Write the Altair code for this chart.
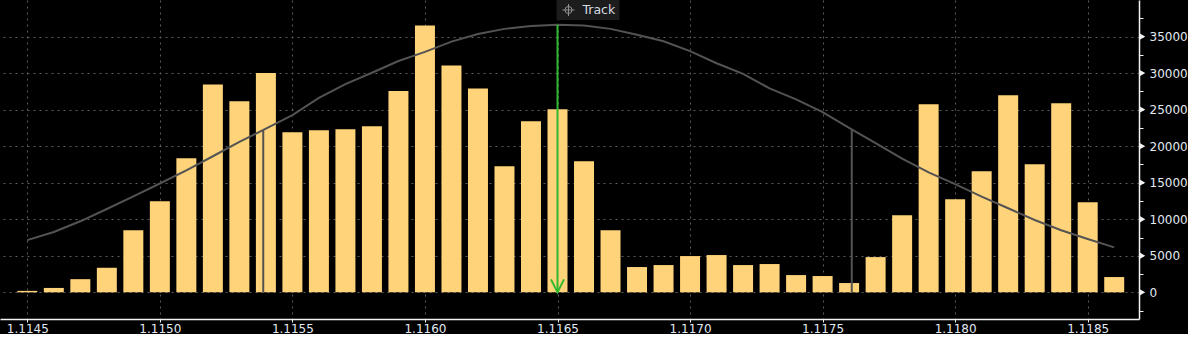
import altair as alt
import pandas as pd

# ---- data ----
prices = [1.1145, 1.1146, 1.1147, 1.1148, 1.1149, 1.1150, 1.1151, 1.1152, 1.1153, 1.1154,
          1.1155, 1.1156, 1.1157, 1.1158, 1.1159, 1.1160, 1.1161, 1.1162, 1.1163, 1.1164,
          1.1165, 1.1166, 1.1167, 1.1168, 1.1169, 1.1170, 1.1171, 1.1172, 1.1173, 1.1174,
          1.1175, 1.1176, 1.1177, 1.1178, 1.1179, 1.1180, 1.1181, 1.1182, 1.1183, 1.1184,
          1.1185, 1.1186]
volumes = [200, 600, 1800, 3360, 8500, 12470, 18350, 28450, 26130, 30000,
           21900, 22170, 22310, 22720, 27540, 36500, 31040, 27900, 17250, 23400,
           25040, 17940, 8500, 3460, 3730, 4960, 5100, 3730, 3870, 2360,
           2230, 1270, 4820, 10560, 25720, 12750, 16570, 26950, 17530, 25860,
           12340, 2090]
curve = [7140, 8250, 9720, 11400, 13130, 14890, 16700, 18620, 20580, 22400,
         24240, 26600, 28500, 30050, 31650, 32900, 34300, 35350, 36050, 36450,
         36600, 36520, 36050, 35250, 34350, 33000, 31350, 29900, 27900, 26400,
         24650, 22500, 20400, 18300, 16400, 14800, 13100, 11500, 9900, 8500,
         7300, 6150]
sigma_prices = [1.11539, 1.11761]
sigma_tops = [22170, 22310]
track_price = [1.1165]
track_top = [36600]
x_tick_values = [1.1145, 1.1150, 1.1155, 1.1160, 1.1165, 1.1170, 1.1175, 1.1180, 1.1185]
y_tick_values = [-2500, 0, 2500, 5000, 7500, 10000, 12500, 15000, 17500, 20000,
                 22500, 25000, 27500, 30000, 32500, 35000, 37500]
y_label_values = [0, 5000, 10000, 15000, 20000, 25000, 30000, 35000]

# ---- style ----
BAR = "#FFD379"
CURVE = "#535353"
GREEN = "#2FB830"
LABEL = "#e2e9f2"
AXIS = "#f2f2f2"
GRID = "#5c5c5c"
FONT = "DejaVu Sans"
LSIZE = 12

W, H = 1139, 319
xscale = alt.Scale(domain=[1.114397, 1.1186935], nice=False, zero=False)
yscale = alt.Scale(domain=[-3650, 40000], nice=False, zero=False)

df = pd.DataFrame({"price": prices, "volume": volumes, "curve": curve})
sig = pd.DataFrame({"price": sigma_prices, "top": sigma_tops})
trk = pd.DataFrame({"price": track_price, "top": track_top})
ylab = pd.DataFrame({"v": y_label_values})

xaxis = alt.Axis(values=x_tick_values, format=".4f", title=None, grid=True,
                 gridColor=GRID, gridDash=[2, 4], gridWidth=1,
                 domainColor=AXIS, domainWidth=1.5, tickColor=AXIS, tickSize=3,
                 labelColor=LABEL, labelFont=FONT, labelFontSize=LSIZE,
                 labelPadding=1, labelFlush=False)
yaxis = alt.Axis(orient="right", values=y_tick_values, format="d", title=None,
                 labelExpr="datum.value >= 0 && datum.value % 5000 === 0 ? datum.label : ''",
                 grid=True, gridColor=GRID, gridDash=[2, 4], gridWidth=1,
                 gridOpacity={"condition": {"test": "datum.value % 5000 === 0", "value": 1}, "value": 0},
                 domainColor=AXIS, domainWidth=1.5, tickColor=AXIS, tickSize=4,
                 labelColor=LABEL, labelFont=FONT, labelFontSize=LSIZE, labelPadding=6)


def X(field):
    return alt.X(field, scale=xscale, axis=xaxis)


def Y(field):
    return alt.Y(field, scale=yscale, axis=yaxis)


bars = alt.Chart(df).transform_calculate(
    x0="datum.price - 0.0000377", x1="datum.price + 0.0000377"
).mark_bar(color=BAR).encode(
    x=X("x0:Q"),
    x2="x1:Q",
    y=Y("volume:Q"),
    y2=alt.datum(0),
)

line = alt.Chart(df).mark_line(color=CURVE, strokeWidth=2).encode(
    x=X("price:Q"),
    y=Y("curve:Q"),
)

sigma = alt.Chart(sig).mark_rule(color=CURVE, strokeWidth=2).encode(
    x=X("price:Q"),
    y=Y("top:Q"),
    y2=alt.datum(0),
)

green = alt.Chart(trk).mark_rule(color=GREEN, strokeWidth=2).encode(
    x=X("price:Q"),
    y=Y("top:Q"),
    y2=alt.datum(0),
)

arrow = alt.Chart(trk).transform_calculate(zero="0").mark_point(
    shape="M-0.5,-1L0,0L0.5,-1", size=676, filled=False, color=GREEN,
    strokeWidth=2, opacity=1
).encode(
    x=X("price:Q"),
    y=Y("zero:Q"),
)

box = alt.Chart(trk).mark_rect(color="#1c1c1c", x2Offset=62, xOffset=-1).encode(
    x=X("price:Q"),
    x2="price:Q",
    y=alt.value(0),
    y2=alt.value(20),
)

ring = alt.Chart(trk).mark_point(shape="circle", size=50, filled=False, color="#8f8f8f",
                                 strokeWidth=1, opacity=1, xOffset=11).encode(
    x=X("price:Q"),
    y=alt.value(10),
)
cross = alt.Chart(trk).mark_point(shape="M-1,0L1,0M0,-1L0,1", size=144, filled=False,
                                  color="#8f8f8f", strokeWidth=1, opacity=1, xOffset=11).encode(
    x=X("price:Q"),
    y=alt.value(10),
)
label = alt.Chart(trk).mark_text(text="Track", align="left", baseline="middle", dx=25,
                                 font=FONT, fontSize=12.5, color="#d6dbe0").encode(
    x=X("price:Q"),
    y=alt.value(10),
)

ticks = alt.Chart(ylab).mark_point(shape="triangle-right", filled=True, color=AXIS,
                                   size=40, opacity=1, clip=False).encode(
    x=alt.value(W + 3.5),
    y=Y("v:Q"),
)

chart = alt.layer(
    bars, line, sigma, green, arrow, box, ring, cross, label, ticks
).properties(
    width=W, height=H, background="#000000", padding=0,
).configure_view(stroke=None).configure_axis(
    labelFontSize=LSIZE, labelFont=FONT, labelColor=LABEL
)

chart.save("out.html", embed_options={"renderer": "svg", "actions": False})
